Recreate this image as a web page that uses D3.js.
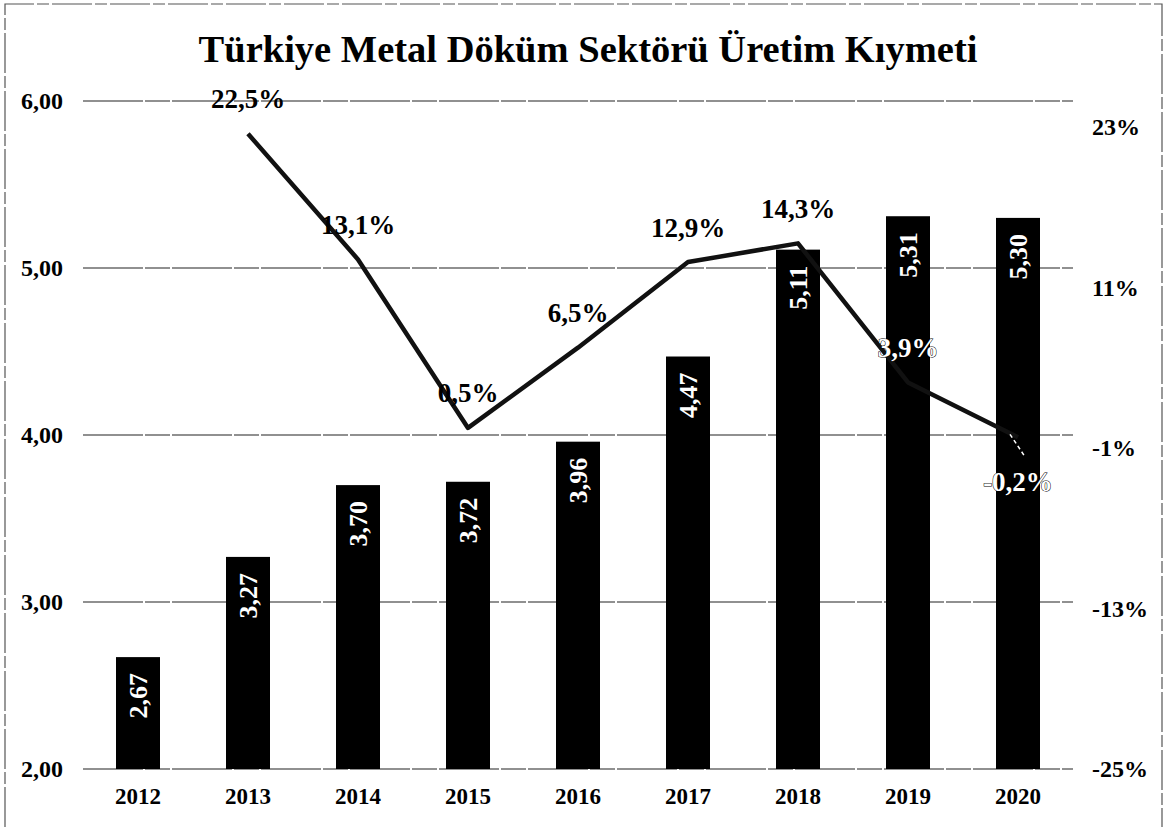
<!DOCTYPE html>
<html>
<head>
<meta charset="utf-8">
<script src="https://cdn.jsdelivr.net/npm/d3@7/dist/d3.min.js"></script>
<style>
  html, body { margin: 0; padding: 0; background: #fff; }
  svg { display: block; }
  text { font-family: "Liberation Serif", "Times New Roman", serif; font-weight: bold; }
</style>
</head>
<body>
<svg id="chart" width="1166" height="827"></svg>
<script>
// Production value (billion) per year and the year-on-year change (%)
const years = ["2012", "2013", "2014", "2015", "2016", "2017", "2018", "2019", "2020"];
const production = [2.67, 3.27, 3.70, 3.72, 3.96, 4.47, 5.11, 5.31, 5.30];
const changeYears = ["2013", "2014", "2015", "2016", "2017", "2018", "2019", "2020"];
const changePct = [22.5, 13.1, 0.5, 6.5, 12.9, 14.3, 3.9, -0.2];
const leftTicks = [2, 3, 4, 5, 6];
const rightTicks = [-25, -13, -1, 11, 23];
const title = "Türkiye Metal Döküm Sektörü Üretim Kıymeti";

const svg = d3.select("#chart");
const W = 1166, H = 827;
const plot = { left: 83, right: 1073, top: 101, bottom: 769 };

const fmt = d3.formatLocale({ decimal: ",", thousands: ".", grouping: [3], currency: ["", ""], minus: "-" });
const f2 = fmt.format(".2f");
const f1 = fmt.format(".1f");

const x = d3.scaleBand().domain(years).range([plot.left, plot.right]).paddingInner(0.6).paddingOuter(0.3);
const yL = d3.scaleLinear().domain([2, 6]).range([plot.bottom, plot.top]);
const yR = d3.scaleLinear().domain([-25, 23]).range([plot.bottom, 127]);

// page frame
svg.append("path")
  .attr("d", `M5,${H} L5,4 L${W - 4},4 L${W - 4},${H}`)
  .attr("fill", "none").attr("stroke", "#555").attr("stroke-width", 1.2)
  .attr("stroke-dasharray", "40 3 12 3");

// title
svg.append("text")
  .attr("x", 588).attr("y", 62)
  .attr("text-anchor", "middle").attr("font-size", 38.5)
  .text(title);

// horizontal gridlines
svg.append("g").selectAll("line").data(leftTicks).join("line")
  .attr("x1", plot.left).attr("x2", plot.right)
  .attr("y1", d => yL(d)).attr("y2", d => yL(d))
  .attr("stroke", "#222").attr("stroke-width", 1.2)
  .attr("stroke-dasharray", "60 2 25 2");

// left axis
const axL = svg.append("g").attr("transform", `translate(${plot.left - 20},0)`)
  .call(d3.axisLeft(yL).tickValues(leftTicks).tickFormat(f2).tickSize(0).tickPadding(0));
axL.select(".domain").remove();
axL.selectAll("text").attr("font-size", 24).attr("fill", "#000")
  .attr("font-family", "Liberation Serif, serif").attr("font-weight", "bold");

// right axis
const axR = svg.append("g").attr("transform", `translate(${plot.right + 19},0)`)
  .call(d3.axisRight(yR).tickValues(rightTicks).tickFormat(d => d + "%").tickSize(0).tickPadding(0));
axR.select(".domain").remove();
axR.selectAll("text").attr("font-size", 24).attr("fill", "#000")
  .attr("font-family", "Liberation Serif, serif").attr("font-weight", "bold");

// bottom axis
const axB = svg.append("g").attr("transform", `translate(0,${plot.bottom})`)
  .call(d3.axisBottom(x).tickSize(0).tickPadding(19));
axB.select(".domain").remove();
axB.selectAll("text").attr("font-size", 23).attr("fill", "#000")
  .attr("font-family", "Liberation Serif, serif").attr("font-weight", "bold");

// bars
const barData = years.map((y, i) => ({ year: y, v: production[i] }));
svg.append("g").selectAll("rect").data(barData).join("rect")
  .attr("x", d => x(d.year)).attr("width", x.bandwidth())
  .attr("y", d => yL(d.v)).attr("height", d => yL(2) - yL(d.v))
  .attr("fill", "#000");

// bar value labels, rotated inside the top of each bar
svg.append("g").selectAll("text").data(barData).join("text")
  .attr("transform", d => `translate(${x(d.year) + x.bandwidth() / 2 + 9},${yL(d.v) + 16}) rotate(-90)`)
  .attr("text-anchor", "end").attr("font-size", 26).attr("fill", "#fff")
  .text(d => f2(d.v));

// growth line
const lineData = changeYears.map((y, i) => ({ year: y, v: changePct[i] }));
const cx = d => x(d.year) + x.bandwidth() / 2;
svg.append("path").datum(lineData)
  .attr("d", d3.line().x(cx).y(d => yR(d.v)))
  .attr("fill", "none").attr("stroke", "#111").attr("stroke-width", 4.5)
  .attr("stroke-linejoin", "round");

// leader for the label placed below its point
const neg = lineData.filter(d => d.v < 0);
svg.append("g").selectAll("line").data(neg).join("line")
  .attr("x1", d => cx(d) - 8).attr("y1", d => yR(d.v) - 3)
  .attr("x2", d => cx(d) + 6).attr("y2", d => yR(d.v) + 18)
  .attr("stroke", "#fff").attr("stroke-width", 1.5).attr("stroke-dasharray", "4 3");

// percentage labels; labels sitting on a bar are drawn white with a dark outline
const labelY = d => d.v < 0 ? yR(d.v) + 44 : yR(d.v) - 35;
const onBar = d => {
  const top = yL(production[years.indexOf(d.year)]);
  return labelY(d) > top;
};
svg.append("g").selectAll("text").data(lineData).join("text")
  .attr("x", cx).attr("y", labelY).attr("dy", "0.35em")
  .attr("text-anchor", "middle").attr("font-size", 27)
  .attr("fill", d => onBar(d) ? "#fff" : "#000")
  .attr("stroke", d => onBar(d) ? "#000" : "none")
  .attr("stroke-width", 1)
  .attr("paint-order", "stroke")
  .text(d => f1(d.v) + "%");
</script>
</body>
</html>
